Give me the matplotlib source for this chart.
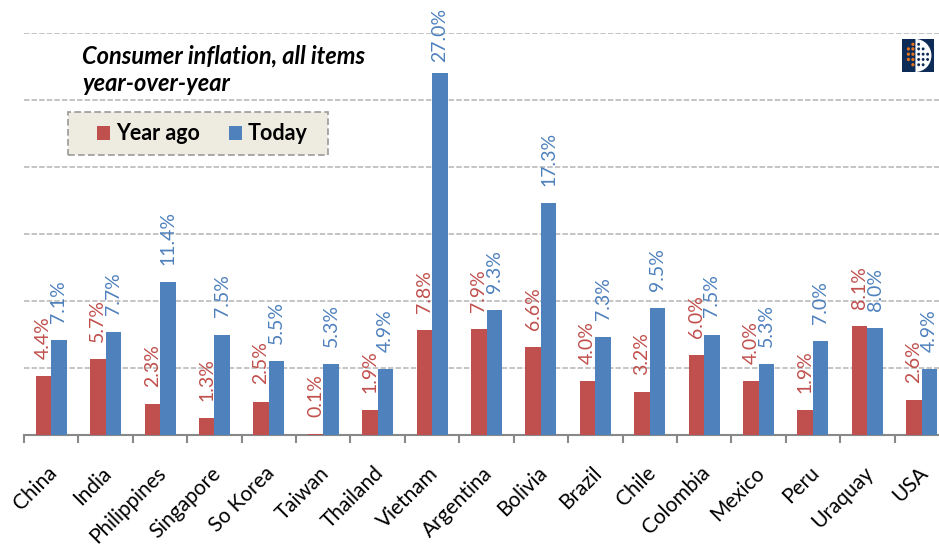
import numpy as np
import matplotlib
matplotlib.use("Agg")
import matplotlib.pyplot as plt
from matplotlib.patches import Rectangle, Wedge, Circle
from matplotlib.transforms import ScaledTranslation

countries = ["China", "India", "Philippines", "Singapore", "So Korea", "Taiwan",
             "Thailand", "Vietnam", "Argentina", "Bolivia", "Brazil", "Chile",
             "Colombia", "Mexico", "Peru", "Uraquay", "USA"]
year_ago = [4.4, 5.7, 2.3, 1.3, 2.5, 0.1, 1.9, 7.8, 7.9, 6.6, 4.0, 3.2, 6.0, 4.0, 1.9, 8.1, 2.6]
today = [7.1, 7.7, 11.4, 7.5, 5.5, 5.3, 4.9, 27.0, 9.3, 17.3, 7.3, 9.5, 7.5, 5.3, 7.0, 8.0, 4.9]
series_names = ["Year ago", "Today"]
title_lines = ["Consumer inflation, all items", "year-over-year"]

RED = "#C0504D"
BLUE = "#4F81BD"
FONT = "Lato"

W, H = 939, 546
fig = plt.figure(figsize=(W / 100, H / 100), dpi=100)


def fx(px):
    return px / W


def fy(py):
    return 1 - py / H


ax = fig.add_axes([fx(24), fy(435), 925 / W, (435 - 33) / H])
x = np.arange(len(countries))
w = 0.285
ax.bar(x - w / 2, year_ago, w, color=RED, zorder=3)
ax.bar(x + w / 2, today, w, color=BLUE, zorder=3)
ax.set_xlim(-0.5, len(countries) - 0.5)
ax.set_ylim(0, 30)

ax.set_yticks(np.arange(5, 31, 5))
ax.yaxis.grid(True, color="#C4C4C4", lw=1.4, ls=(0, (2.8, 1.1)), zorder=0)
ax.tick_params(axis="y", length=0, labelleft=False)
for s in ["left", "top", "right"]:
    ax.spines[s].set_visible(False)
ax.spines["bottom"].set_color("#888888")
ax.spines["bottom"].set_linewidth(1.5)
ax.set_xticks(x)
ax.tick_params(axis="x", which="major", length=0, labelbottom=False)
ax.set_xticks(np.arange(-0.5, len(countries), 1), minor=True)
ax.tick_params(axis="x", which="minor", length=5.5, width=1.5, color="#888888", direction="out")

# data labels
off = 1.27
ymax_lab = 27.8
for i in range(len(countries)):
    ax.text(x[i] - w / 2, min(year_ago[i] + off, ymax_lab), f"{year_ago[i]:.1f}%",
            rotation=90, ha="center", va="bottom", color=RED, fontsize=14,
            family=FONT, zorder=4)
    ax.text(x[i] + w / 2, min(today[i] + off, ymax_lab), f"{today[i]:.1f}%",
            rotation=90, ha="center", va="bottom", color=BLUE, fontsize=14,
            family=FONT, zorder=4)

# category labels
tr = ax.get_xaxis_transform() + ScaledTranslation(0.03, -0.35, fig.dpi_scale_trans)
for i, c in enumerate(countries):
    ax.text(x[i], 0, c, transform=tr, rotation=45, rotation_mode="anchor",
            ha="right", va="center", fontsize=15, family=FONT, color="black")

# title
fig.text(fx(82), fy(63), title_lines[0], fontsize=17, family=FONT, weight="bold",
         style="italic", va="baseline", ha="left")
fig.text(fx(82), fy(91), title_lines[1], fontsize=17, family=FONT, weight="bold",
         style="italic", va="baseline", ha="left")

# legend box
fig.patches.append(Rectangle((fx(68), fy(155)), 260 / W, 43 / H, transform=fig.transFigure,
                             facecolor="#EEECE1", edgecolor="#9A9A9A", lw=1.2, ls=(0, (4, 2))))
fig.patches.append(Rectangle((fx(97), fy(140)), 13 / W, 14 / H, transform=fig.transFigure,
                             facecolor=RED, edgecolor="none"))
fig.text(fx(116), fy(133), series_names[0], fontsize=15.5, family=FONT, weight="bold",
         va="center", ha="left")
fig.patches.append(Rectangle((fx(229), fy(140)), 13 / W, 14 / H, transform=fig.transFigure,
                             facecolor=BLUE, edgecolor="none"))
fig.text(fx(248), fy(133), series_names[1], fontsize=15.5, family=FONT, weight="bold",
         va="center", ha="left")

# logo
lax = fig.add_axes([fx(902), fy(72), 32 / W, 33 / H])
lax.set_xlim(0, 1)
lax.set_ylim(0, 1)
lax.axis("off")
lax.add_patch(Rectangle((0, 0), 1, 1, facecolor="#0C2B57", edgecolor="none"))
lax.add_patch(Wedge((0.42, 0.5), 0.5, -90, 90, facecolor="white", edgecolor="none"))
for cx in [0.52, 0.66, 0.80]:
    for cy in [0.22, 0.38, 0.54, 0.70, 0.84]:
        if (cx - 0.42) ** 2 + (cy - 0.5) ** 2 < 0.17:
            lax.add_patch(Circle((cx, cy), 0.045, facecolor="#0C2B57", edgecolor="none"))
for cx, cy in [(0.34, 0.22), (0.34, 0.38), (0.34, 0.54), (0.34, 0.70), (0.34, 0.84),
               (0.20, 0.38), (0.20, 0.54), (0.20, 0.70)]:
    lax.add_patch(Circle((cx, cy), 0.05, facecolor="#E8741E", edgecolor="none"))

fig.savefig("out.png", dpi=100)
